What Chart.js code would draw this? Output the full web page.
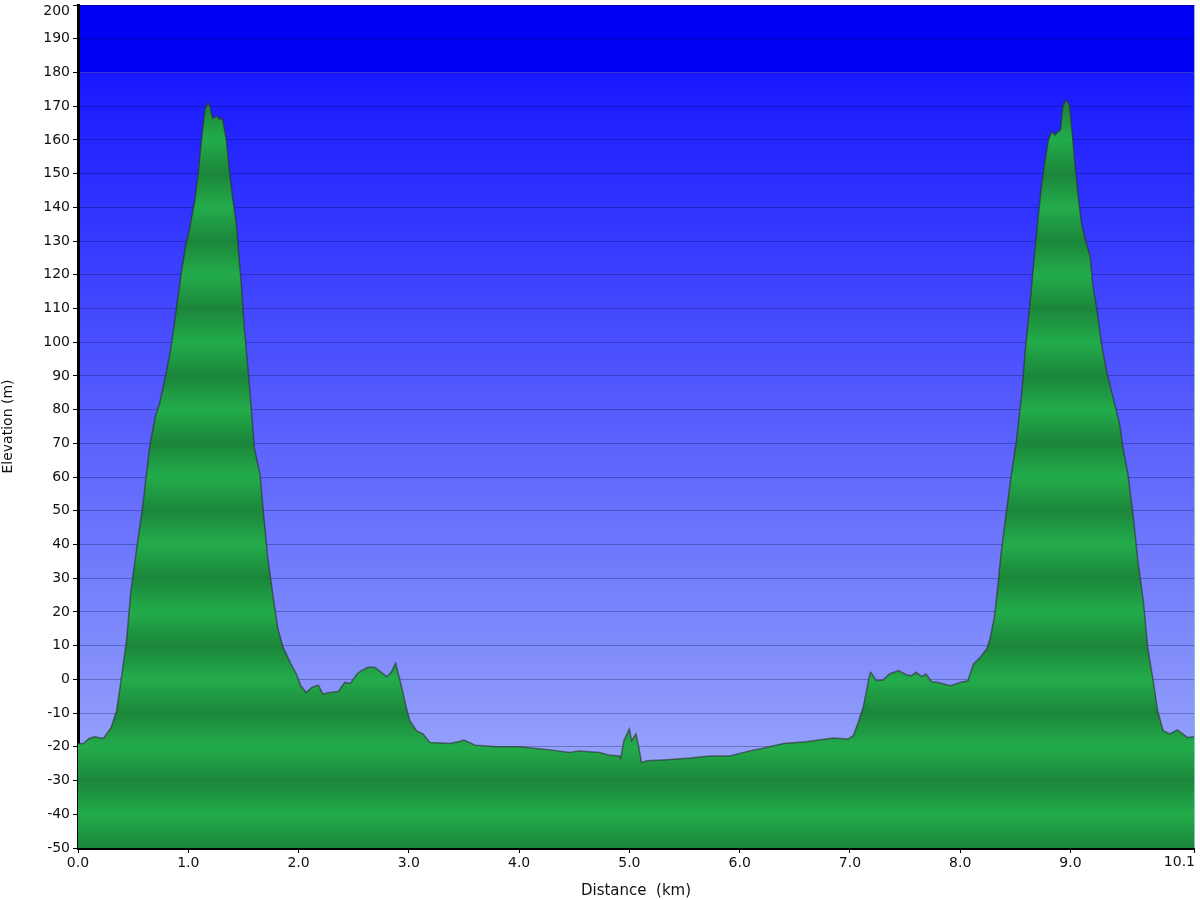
<!DOCTYPE html>
<html lang="en">
<head>
    <meta charset="UTF-8">
    <title>Elevation profile</title>
    <script src="https://cdn.jsdelivr.net/npm/chart.js"></script>
    <style>
        html, body { margin: 0; padding: 0; background: #fff; }
        #wrap { width: 1200px; height: 900px; }
    </style>
</head>
<body>
    <div id="wrap"><canvas id="profileChart" width="1200" height="900"></canvas></div>
    <script>
        // distance along the track (km) and elevation (m)
        const distanceKm = [
            0.00, 0.05, 0.10, 0.15, 0.23, 0.30, 0.35, 0.39, 0.44, 0.48,
            0.53, 0.59, 0.65, 0.70, 0.74, 0.80, 0.85, 0.89, 0.94, 0.98,
            1.01, 1.06, 1.09, 1.12, 1.15, 1.18, 1.20, 1.22, 1.26, 1.285,
            1.31, 1.345, 1.375, 1.405, 1.435, 1.45, 1.48, 1.51, 1.54, 1.57,
            1.60, 1.65, 1.68, 1.72, 1.77, 1.81, 1.86, 1.93, 1.98, 2.02,
            2.07, 2.12, 2.18, 2.22, 2.285, 2.36, 2.42, 2.47, 2.53, 2.57,
            2.63, 2.69, 2.75, 2.80, 2.84, 2.88, 2.92, 2.95, 2.98, 3.01,
            3.07, 3.13, 3.19, 3.37, 3.45, 3.50, 3.60, 3.80, 4.00, 4.28,
            4.46, 4.54, 4.73, 4.81, 4.91, 4.92, 4.95, 5.00, 5.02, 5.06,
            5.08, 5.11, 5.16, 5.34, 5.55, 5.73, 5.91, 6.09, 6.20, 6.40,
            6.60, 6.85, 6.98, 7.03, 7.07, 7.12, 7.15, 7.18, 7.19, 7.24,
            7.30, 7.36, 7.44, 7.51, 7.56, 7.60, 7.65, 7.69, 7.74, 7.80,
            7.91, 8.00, 8.07, 8.12, 8.18, 8.24, 8.27, 8.31, 8.34, 8.37,
            8.42, 8.465, 8.51, 8.555, 8.585, 8.62, 8.65, 8.68, 8.71, 8.74,
            8.77, 8.80, 8.83, 8.86, 8.89, 8.91, 8.93, 8.96, 8.99, 9.01,
            9.04, 9.07, 9.10, 9.14, 9.18, 9.20, 9.24, 9.28, 9.325, 9.37,
            9.415, 9.445, 9.475, 9.52, 9.57, 9.61, 9.66, 9.70, 9.75, 9.79,
            9.84, 9.90, 9.97, 10.02, 10.06, 10.12
        ];
        const elevationM = [
            -19, -19, -17.5, -17, -17.5, -14.3, -9.3, -0.4, 11.5, 26.3,
            38.2, 52.2, 69, 77.8, 81.9, 90.8, 99.7, 109.5, 121.4, 129.3,
            133.3, 142.2, 150.1, 160, 168.9, 171.1, 169.4, 166.4, 167.1, 166.1,
            166.4, 160, 150.1, 142.2, 135.2, 129.3, 117.4, 103.6, 92.7, 80.8,
            68.4, 61, 50.1, 36.2, 24.4, 15.4, 9.5, 4.6, 1.6, -1.9,
            -3.9, -2.4, -1.7, -4.3, -3.9, -3.6, -0.9, -1.2, 1.6, 2.6,
            3.6, 3.6, 2.1, 0.8, 2.1, 4.8, -0.4, -4.3, -8.8, -12.3,
            -15.2, -16.2, -18.7, -19, -18.5, -18, -19.5, -20, -20, -20.9,
            -21.7, -21.2, -21.7, -22.4, -22.7, -23.5, -18.2, -14.7, -18.2, -16.2,
            -19.2, -24.6, -24.1, -23.8, -23.3, -22.7, -22.7, -21.2, -20.5, -19,
            -18.5, -17.4, -17.7, -16.7, -13.2, -8.3, -3.4, 1.6, 2.1, -0.4,
            -0.2, 1.6, 2.6, 1.4, 1.1, 2.1, 0.8, 1.6, -0.7, -0.9,
            -1.9, -0.9, -0.4, 4.6, 6.5, 9.0, 12, 18.4, 27.3, 37.2,
            50.1, 61, 70.9, 83.8, 95.6, 107.5, 117.4, 128.3, 138.2, 147.1,
            154.1, 160, 162.5, 161.5, 162.5, 163, 169.9, 171.9, 170.4, 163.9,
            153, 143.2, 135.2, 129.8, 125.3, 117.4, 109.5, 99.6, 91.7, 85.7,
            79.8, 75.9, 68.9, 61, 48.1, 35.3, 23.4, 9.5, -0.4, -9.3,
            -15.2, -16.2, -15, -16.2, -17.2, -17
        ];
        const xTickValues = [0, 1, 2, 3, 4, 5, 6, 7, 8, 9, 10.12];
        const yMin = -50, yMax = 200, yStep = 10;

        const points = distanceKm.map((d, i) => ({ x: d, y: elevationM[i] }));
        const lastX = xTickValues[xTickValues.length - 1];

        const font = { family: "'DejaVu Sans', Verdana, sans-serif", size: 14 };
        const fontCss = `${font.size}px ${font.family}`;

        // blue sky behind the profile: solid band on top, gradient below 180 m
        const skyPlugin = {
            id: 'sky',
            beforeDraw(chart) {
                const { ctx, chartArea: a, scales } = chart;
                if (!a) return;
                const y180 = scales.y.getPixelForValue(180);
                ctx.save();
                ctx.fillStyle = 'rgb(0,0,242)';
                ctx.fillRect(a.left, a.top, a.right - a.left, y180 - a.top);
                const g = ctx.createLinearGradient(0, y180, 0, a.bottom);
                g.addColorStop(0, 'rgb(24,24,255)');
                g.addColorStop(1, 'rgb(165,180,250)');
                ctx.fillStyle = g;
                ctx.fillRect(a.left, y180, a.right - a.left, a.bottom - y180);
                ctx.restore();
            },
            afterDraw(chart) {
                const { ctx, chartArea: a, scales } = chart;
                ctx.save();
                ctx.strokeStyle = 'rgba(120,190,190,0.9)';
                ctx.lineWidth = 1;
                ctx.beginPath();
                ctx.moveTo(a.right + 0.5, a.top);
                ctx.lineTo(a.right + 0.5, a.bottom);
                ctx.stroke();

                // edge labels: last distance right-aligned, top elevation kept inside
                ctx.font = fontCss;
                ctx.fillStyle = '#111';
                ctx.textAlign = 'right';
                ctx.textBaseline = 'top';
                ctx.fillText(lastX.toFixed(1), scales.x.getPixelForValue(lastX) + 1, a.bottom + 7);
                ctx.textBaseline = 'middle';
                ctx.fillText(String(yMax), a.left - 8, scales.y.getPixelForValue(yMax) + 6);
                ctx.restore();
            }
        };

        // striped green fill: light at even tens, dark at odd tens
        function stripeFill(context) {
            const chart = context.chart;
            const { ctx, chartArea, scales } = chart;
            if (!chartArea) return '#22ab4a';
            const top = scales.y.getPixelForValue(yMax);
            const bottom = scales.y.getPixelForValue(yMin);
            const g = ctx.createLinearGradient(0, top, 0, bottom);
            for (let v = yMax; v >= yMin; v -= yStep) {
                const pos = (scales.y.getPixelForValue(v) - top) / (bottom - top);
                const odd = Math.abs(v / yStep) % 2 === 1;
                g.addColorStop(pos, odd ? '#1b863a' : '#23ac4b');
            }
            return g;
        }

        new Chart(document.getElementById('profileChart'), {
            type: 'line',
            data: {
                datasets: [{
                    data: points,
                    fill: 'start',
                    backgroundColor: stripeFill,
                    borderColor: 'rgba(45,45,45,0.6)',
                    borderWidth: 1.5,
                    pointRadius: 0,
                    tension: 0
                }]
            },
            options: {
                responsive: false,
                animation: false,
                layout: { padding: { top: 5, right: 6, left: 0, bottom: 0 } },
                plugins: { legend: { display: false }, tooltip: { enabled: false } },
                scales: {
                    x: {
                        type: 'linear',
                        min: 0,
                        max: lastX,
                        afterBuildTicks: scale => {
                            scale.ticks = xTickValues.map(v => ({ value: v }));
                        },
                        afterFit: scale => {
                            scale.height = 52;
                            scale.paddingLeft = 0;
                            scale.paddingRight = 0;
                        },
                        ticks: {
                            color: '#111',
                            font: font,
                            padding: 2,
                            maxRotation: 0,
                            callback: v => (v === lastX ? '' : Number(v).toFixed(1))
                        },
                        grid: { drawOnChartArea: false, drawTicks: true, tickLength: 5, tickColor: '#000' },
                        border: { color: '#000', width: 3 },
                        title: {
                            display: true,
                            text: 'Distance\u00a0\u00a0(km)',
                            color: '#111',
                            font: { family: font.family, size: 15 },
                            padding: { top: 3, bottom: 0 }
                        }
                    },
                    y: {
                        min: yMin,
                        max: yMax,
                        z: 1,
                        afterFit: scale => {
                            scale.width = 78;
                            scale.paddingTop = 0;
                            scale.paddingBottom = 0;
                        },
                        ticks: {
                            stepSize: yStep,
                            color: '#111',
                            font: font,
                            padding: 3,
                            callback: v => (v === yMax ? '' : String(v))
                        },
                        grid: {
                            color: 'rgba(0,0,60,0.28)',
                            lineWidth: 1,
                            drawTicks: true,
                            tickLength: 5,
                            tickColor: '#000'
                        },
                        border: { color: '#000', width: 3 },
                        title: {
                            display: true,
                            text: 'Elevation (m)',
                            color: '#111',
                            font: { family: font.family, size: 14 },
                            padding: { top: 0, bottom: 2 }
                        }
                    }
                }
            },
            plugins: [skyPlugin]
        });
    </script>
</body>
</html>
